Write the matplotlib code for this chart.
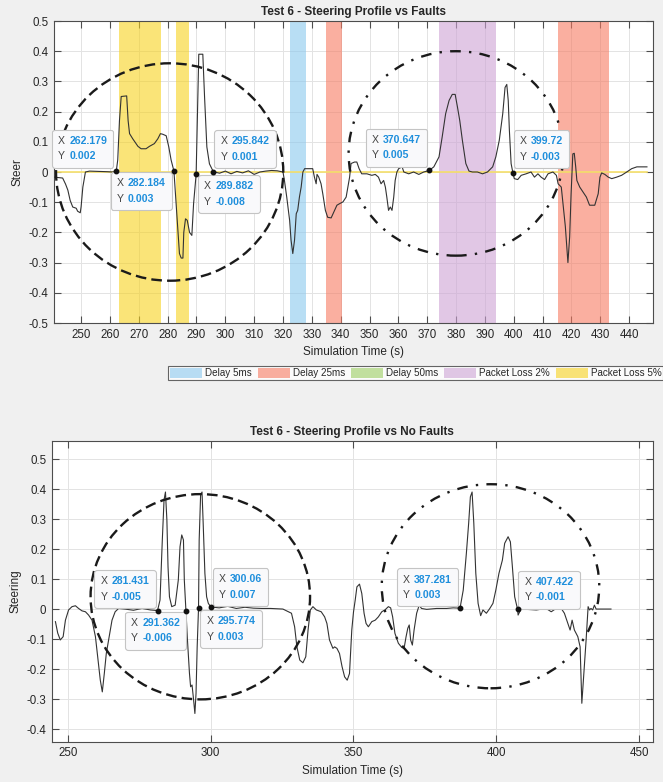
import matplotlib
matplotlib.use("Agg")
import matplotlib.pyplot as plt
from matplotlib.patches import Ellipse, Patch
from matplotlib.offsetbox import TextArea, HPacker, VPacker, AnnotationBbox

plt.rcParams['font.family'] = ['Liberation Sans', 'DejaVu Sans']

# ---------------- data: top panel (with faults) ----------------
time_top = [240.7, 243.6, 244.6, 245.4, 246.2, 247.1, 248.3, 248.8, 249.7, 250.0, 250.6, 251.5, 252.9,
            256, 259, 261.0, 262.179, 262.7, 263.3, 263.9, 265.8, 266.3, 266.8, 267.9, 269.7, 270.8,
            272.5, 273.7, 275.4, 276.6, 277.5, 278.3, 279.5, 280.4, 281.2, 282.184, 282.7, 283.5,
            284.1, 284.7, 285.3, 285.6, 286.2, 286.8, 287.6, 288.4, 289.0, 289.882, 290.3, 290.8,
            292.2, 292.8, 293.6, 294.5, 295.842, 298, 300, 302, 304, 306, 308, 310, 312, 314, 316,
            318, 320.0, 320.5, 321.3, 322.3, 322.8, 323.4, 324.0, 324.6, 325.1, 325.7, 326.3, 326.9,
            327.5, 330.3, 330.9, 331.5, 331.8, 332.4, 333.2, 333.8, 334.7, 335.5, 336.7, 337.9,
            338.7, 339.6, 340.8, 341.9, 343.1, 343.6, 344.8, 345.6, 346.4, 347.3, 349.1, 350.8,
            352.0, 353.1, 354.0, 354.9, 355.5, 356.0, 356.6, 357.2, 357.8, 358.4, 358.9, 359.5,
            360.1, 361.3, 361.9, 363.6, 365.3, 367.1, 368.8, 370.647, 372.3, 374.1, 375.2, 376.4,
            377.6, 378.7, 379.7, 380.5, 381.3, 382.2, 383.4, 384.5, 385.7, 387.4, 389.2, 390.9,
            392.7, 393.8, 395.0, 396.2, 397.0, 397.6, 398.1, 398.5, 399.1, 399.72, 400.2, 401.4,
            402.6, 404.3, 406.0, 407.2, 408.4, 409.5, 410.7, 411.9, 413.6, 414.8, 415.4, 416.5,
            417.1, 417.9, 418.8, 419.4, 419.9, 420.5, 421.0, 421.5, 421.9, 422.9, 424.0, 425.2,
            426.3, 428.1, 429.3, 429.9, 430.5, 431.6, 432.8, 434.0, 435.7, 437.4, 439.2, 440.9,
            442.7, 446.2]
steer_top = [-0.017, -0.02, -0.04, -0.06, -0.094, -0.116, -0.12, -0.13, -0.135, -0.115, -0.05, 0.0, 0.003,
             0.002, 0.001, 0.0, 0.002, 0.04, 0.17, 0.25, 0.252, 0.17, 0.127, 0.11, 0.085, 0.077,
             0.077, 0.085, 0.094, 0.11, 0.127, 0.125, 0.12, 0.083, 0.04, 0.003, -0.07, -0.18,
             -0.27, -0.285, -0.285, -0.2, -0.155, -0.16, -0.2, -0.21, -0.105, -0.008, 0.17, 0.39,
             0.39, 0.25, 0.083, 0.027, 0.001, -0.004, 0.003, -0.006, 0.002, -0.003, 0.004, -0.008, 0.0, 0.003, 0.005,
             0.004, 0.0, -0.028, -0.083, -0.16, -0.226, -0.27, -0.226, -0.138, -0.127, -0.083, -0.05, 0.0,
             0.011, 0.011, -0.017, -0.039, -0.008, -0.017, -0.039, -0.072, -0.127, -0.15, -0.152, -0.127,
             -0.11, -0.105, -0.099, -0.083, -0.017, 0.028, 0.033, 0.033, 0.011, -0.006, -0.006, -0.011,
             -0.008, -0.017, -0.039, -0.028, -0.05, -0.083, -0.127, -0.116, -0.127, -0.083, -0.028, 0.0,
             0.011, 0.017, 0.0, -0.006, 0.0, -0.008, 0.0, 0.005, 0.017, 0.05, 0.116, 0.193,
             0.237, 0.257, 0.257, 0.215, 0.17, 0.105, 0.028, 0.003, 0.0, 0.0, -0.006, 0.0,
             0.017, 0.05, 0.105, 0.193, 0.28, 0.29, 0.237, 0.138, 0.028, -0.003, -0.022, -0.025,
             -0.011, -0.006, 0.0, -0.017, -0.006, -0.017, -0.025, -0.006, 0.0, -0.011, -0.039, -0.05,
             -0.105, -0.18, -0.30, -0.215, -0.072, 0.06, 0.062, 0.017, -0.028, -0.05, -0.066, -0.083,
             -0.11, -0.11, -0.072, -0.017, -0.003, -0.008, -0.017, -0.022, -0.017, -0.011, 0.0, 0.011,
             0.017, 0.017]

# fault windows (start, end) in seconds
fault_labels = ['Delay 5ms', 'Delay 25ms', 'Delay 50ms', 'Packet Loss 2%', 'Packet Loss 5%']
fault_colors = ['#8AC8EE', '#F77A61', '#9BCD61', '#CDA3D5', '#F7D21E']
fault_windows = {
    'Delay 5ms': [(322.5, 328.0)],
    'Delay 25ms': [(335.0, 340.5), (415.2, 433.1)],
    'Delay 50ms': [],
    'Packet Loss 2%': [(374.0, 394.0)],
    'Packet Loss 5%': [(263.1, 277.7), (283.0, 287.5)],
}

tips_top_x = [262.179, 282.184, 295.842, 289.882, 370.647, 399.72]
tips_top_y = [0.002, 0.003, 0.001, -0.008, 0.005, -0.003]

# ---------------- data: bottom panel (no faults) ----------------
time_bot = [245.7, 246.5, 247.4, 248.4, 249.2, 250.3, 251.5, 252.7, 253.8, 255.0, 256.2, 257.3, 258.5,
            259.7, 260.5, 261.4, 262.1, 262.8, 263.5, 264.3, 265.5, 266.6, 267.8, 270, 273, 276, 279,
            281.431, 282.3, 283.1, 283.7, 284.2, 284.7, 285.1, 285.6, 286.4, 287.6, 288.7, 289.3,
            289.9, 290.5, 290.8, 291.362, 291.9, 292.6, 293.0, 293.5, 294.0, 294.5, 294.9, 295.3,
            295.774, 296.0, 296.5, 297.0, 297.4, 298.0, 298.6, 299.2, 300.06, 303, 306, 309, 312,
            315, 318, 321, 325.3, 328.3, 329.4, 330.2, 331.2, 332.3, 333.3, 334.1, 334.9, 335.8,
            337.0, 338.7, 339.9, 340.7, 341.6, 342.8, 343.4, 344.2, 345.1, 346.0, 346.9, 347.8,
            348.6, 349.4, 350.0, 350.6, 351.2, 352.1, 352.9, 353.7, 354.4, 355.2, 356.4, 357.6,
            358.7, 359.9, 361.0, 362.2, 363.0, 363.7, 364.5, 365.7, 366.9, 367.7, 368.4, 369.0,
            369.5, 370.0, 370.6, 371.2, 372.1, 373.0, 373.8, 375.6, 379.1, 382.6, 384.9, 387.281,
            388.4, 389.5, 390.3, 390.9, 391.5, 392.1, 392.8, 393.6, 394.5, 395.3, 396.5, 397.7,
            398.8, 399.8, 400.9, 402.1, 402.9, 404.1, 404.9, 405.6, 406.4, 407.422, 407.6, 408.7,
            410.5, 414.0, 417.4, 419.2, 420.9, 422.7, 423.8, 425.0, 425.8, 426.5, 427.3, 428.5,
            429.3, 429.9, 430.6, 431.4, 432.1, 432.6, 433.1, 433.7, 434.3, 434.9, 440.1]
steer_bot = [-0.042, -0.08, -0.103, -0.092, -0.037, -0.003, 0.008, 0.011, 0.002, -0.006, -0.009, -0.02, -0.037,
             -0.092, -0.159, -0.237, -0.276, -0.215, -0.148, -0.103, -0.037, -0.009, 0.002, 0.0, -0.004, 0.002, -0.003,
             -0.005, 0.03, 0.23, 0.363, 0.39, 0.297, 0.141, 0.041, 0.008, 0.013, 0.097, 0.208,
             0.247, 0.23, 0.097, -0.006, -0.103, -0.214, -0.259, -0.253, -0.298, -0.348, -0.281, -0.126,
             0.003, 0.23, 0.38, 0.39, 0.286, 0.119, 0.041, 0.019, 0.007, 0.004, 0.009, 0.002, 0.006,
             0.003, 0.002, 0.002, 0.0, -0.014, -0.059, -0.126, -0.17, -0.179, -0.159, -0.07, -0.003, 0.008,
             -0.003, -0.009, -0.026, -0.048, -0.103, -0.131, -0.126, -0.131, -0.148, -0.192, -0.226, -0.237,
             -0.215, -0.07, -0.01, 0.03, 0.074, 0.083, 0.052, -0.014, -0.048, -0.059, -0.042, -0.037,
             -0.026, -0.009, -0.003, 0.008, 0.004, -0.026, -0.081, -0.114, -0.128, -0.131, -0.092, -0.064,
             -0.053, -0.103, -0.12, -0.07, -0.014, 0.013, 0.002, -0.001, 0.002, 0.002, 0.004, 0.003,
             0.063, 0.186, 0.286, 0.374, 0.39, 0.286, 0.119, 0.019, -0.022, -0.003, -0.014, 0.002,
             0.019, 0.063, 0.119, 0.163, 0.219, 0.241, 0.224, 0.141, 0.041, -0.001, -0.02, 0.002,
             -0.001, -0.003, 0.002, -0.009, 0.002, 0.002, -0.014, -0.048, -0.07, -0.037, -0.07, -0.092,
             -0.126, -0.314, -0.214, -0.103, 0.008, -0.003, 0.002, -0.003, 0.013, 0.0, 0.0]

tips_bot_x = [281.431, 291.362, 300.06, 295.774, 387.281, 407.422]
tips_bot_y = [-0.005, -0.006, 0.007, 0.003, 0.003, -0.001]

x_ticks_top = list(range(250, 441, 10))
y_ticks_top = [-0.5, -0.4, -0.3, -0.2, -0.1, 0, 0.1, 0.2, 0.3, 0.4, 0.5]
x_ticks_bot = [250, 300, 350, 400, 450]
y_ticks_bot = [-0.4, -0.3, -0.2, -0.1, 0, 0.1, 0.2, 0.3, 0.4, 0.5]

# highlight ellipses: (center x, center y, width, height, style)
circles_top = [(280.7, 0.0, 78.8, 0.72, 'dash'), (380.0, 0.0615, 74.5, 0.677, 'dashdot')]
circles_bot = [(296.4, 0.041, 76.8, 0.684, 'dash'), (397.95, 0.076, 76.1, 0.68, 'dashdot')]

# ---------------- styling ----------------
TXT = '#262626'
AX = '#4d4d4d'
TIPBLUE = '#1f8fdc'
LS = {'dash': (0, (4.5, 2.2)), 'dashdot': (0, (4.5, 3.5, 1.0, 3.5))}

fig = plt.figure(figsize=(6.63, 7.82), dpi=100, facecolor='#f0f0f0')
ax1 = fig.add_axes([54/663, 1-323/782, 599/663, 302/782])
ax2 = fig.add_axes([52/663, 1-741.7/782, 600.7/663, 301/782])


def style_axes(ax, xt, yt, xlim, ylim):
    ax.set_xlim(*xlim)
    ax.set_ylim(*ylim)
    ax.set_xticks(xt)
    ax.set_yticks(yt)
    ax.set_yticklabels([('%g' % v) for v in yt])
    ax.grid(True, color='#e3e3e3', lw=0.7)
    ax.set_axisbelow(True)
    ax.tick_params(direction='in', length=5, width=0.8, top=True, right=True,
                   colors=AX, labelcolor=TXT, labelsize=8.3, pad=4)
    for s in ax.spines.values():
        s.set_color(AX)
        s.set_linewidth(0.8)
    ax.set_facecolor('white')


def add_tip(ax, x, y, offset, align):
    fs = 7.6
    r1 = HPacker(children=[TextArea('X', textprops=dict(color='#444444', size=fs)),
                           TextArea(f'{x:g}',
                                    textprops=dict(color=TIPBLUE, size=fs, weight='bold'))],
                 sep=3, pad=0, align='baseline')
    r2 = HPacker(children=[TextArea('Y', textprops=dict(color='#444444', size=fs)),
                           TextArea(f'{y:.3f}',
                                    textprops=dict(color=TIPBLUE, size=fs, weight='bold'))],
                 sep=3, pad=0, align='baseline')
    vp = VPacker(children=[r1, r2], sep=4, pad=0, align='left')
    ab = AnnotationBbox(vp, (x, y), xybox=offset, boxcoords='offset pixels',
                        box_alignment=align, frameon=True, pad=0.45,
                        bboxprops=dict(boxstyle='round,pad=0.45,rounding_size=0.2',
                                       fc='#f9f9fb', ec='#c4c4c4', lw=0.8),
                        zorder=6)
    ax.add_artist(ab)
    ax.plot([x], [y], 'o', ms=3.2, color='#111111', zorder=7)


def add_circles(ax, circles):
    for cx, cy, w, h, st in circles:
        ax.add_patch(Ellipse((cx, cy), w, h, fill=False, ec='#1a1a1a', lw=1.7,
                             ls=LS[st], zorder=4))


# ---------- top ----------
style_axes(ax1, x_ticks_top, y_ticks_top, (240.6, 448.3), (-0.5, 0.5))
for lab, col in zip(fault_labels, fault_colors):
    for a, b in fault_windows[lab]:
        ax1.axvspan(a, b, color=col, alpha=0.6, lw=0, zorder=1)
ax1.plot([min(time_top), max(time_top)], [0, 0], color='#F5DF6A', lw=1.2, zorder=2)
ax1.plot(time_top, steer_top, color='#333333', lw=0.8, zorder=3)
add_circles(ax1, circles_top)
top_offsets = [((-9, 10), (1, 0)), ((-8, -7), (1, 1)), ((7, 10), (0, 0)),
               ((8, -7), (0, 1)), ((-8, 10), (1, 0)), ((7, 11), (0, 0))]
for x, y, (off, al) in zip(tips_top_x, tips_top_y, top_offsets):
    add_tip(ax1, x, y, off, al)
ax1.set_title('Test 6 - Steering Profile vs Faults', fontsize=8.5, fontweight='bold',
              color=TXT, pad=4)
ax1.set_xlabel('Simulation Time (s)', fontsize=8.5, color=TXT, labelpad=4)
ax1.set_ylabel('Steer', fontsize=8.5, color=TXT, labelpad=4)

handles = [Patch(facecolor=c, alpha=0.6, edgecolor='none', label=l)
           for l, c in zip(fault_labels, fault_colors)]
leg = fig.legend(handles=handles, ncol=5, loc='upper left',
                 bbox_to_anchor=(168/663, 1-366/782), frameon=True, fancybox=False,
                 edgecolor='#404040', facecolor='white', fontsize=7.1,
                 handlelength=3.25, handleheight=1.15, handletextpad=0.3,
                 columnspacing=0.6, borderpad=0.2, borderaxespad=0)
leg.get_frame().set_linewidth(0.8)
for t in leg.get_texts():
    t.set_color(TXT)

# ---------- bottom ----------
style_axes(ax2, x_ticks_bot, y_ticks_bot, (244.5, 454.7), (-0.442, 0.561))
ax2.plot(time_bot, steer_bot, color='#333333', lw=0.8, zorder=3)
add_circles(ax2, circles_bot)
bot_offsets = [((-8, 9), (1, 0)), ((-6, -7), (1, 1)), ((8, 7), (0, 0)),
               ((8, -8), (0, 1)), ((-8, 8), (1, 0)), ((7, 7), (0, 0))]
for x, y, (off, al) in zip(tips_bot_x, tips_bot_y, bot_offsets):
    add_tip(ax2, x, y, off, al)
ax2.set_title('Test 6 - Steering Profile vs No Faults', fontsize=8.5, fontweight='bold',
              color=TXT, pad=4)
ax2.set_xlabel('Simulation Time (s)', fontsize=8.5, color=TXT, labelpad=4)
ax2.set_ylabel('Steering', fontsize=8.5, color=TXT, labelpad=4)

fig.savefig('out.png', dpi=100, facecolor=fig.get_facecolor())
